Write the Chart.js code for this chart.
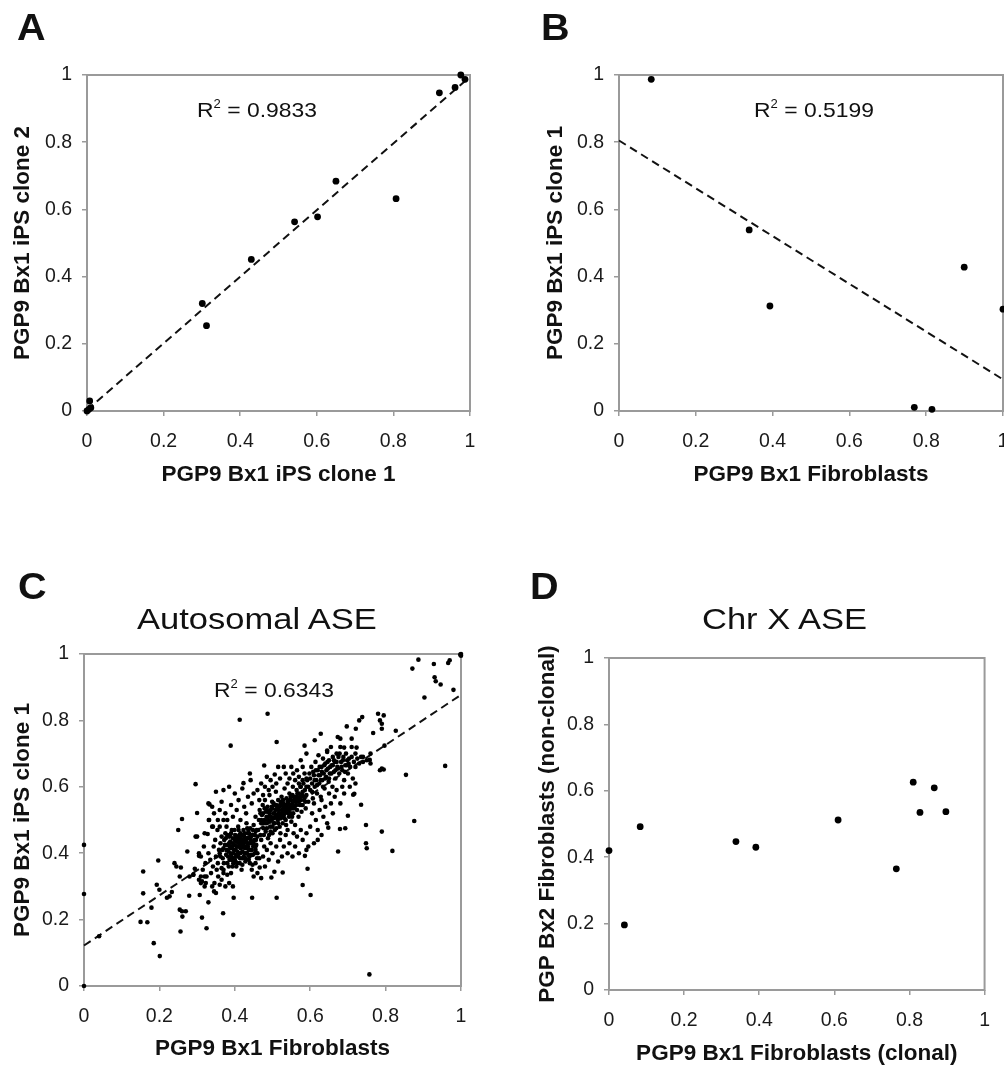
<!DOCTYPE html>
<html>
<head>
<meta charset="utf-8">
<script src="https://cdn.jsdelivr.net/npm/chart.js@4.4.1/dist/chart.umd.min.js"></script>
<style>
  html, body { margin:0; padding:0; background:#fff; width:1004px; height:1069px; overflow:hidden; }
  #wrap { position:relative; width:1004px; height:1069px; overflow:hidden; }
  canvas { position:absolute; }
  .txt { position:absolute; font-family:"Liberation Sans", Arial, Helvetica, sans-serif; color:#111; line-height:1; white-space:nowrap; transform-origin:0 0; }
  .letter { font-size:36px; font-weight:bold; transform:scaleX(1.1); }
  .ttl { font-size:29px; transform:scaleX(1.19); }
  .r2 { font-size:21px; transform:scaleX(1.09); }
  .r2 sup { font-size:12px; vertical-align:0; position:relative; top:-9px; }
</style>
</head>
<body>
<div id="wrap">
  <canvas id="cA" width="502" height="540" style="left:0;top:0;width:502px;height:540px"></canvas>
  <canvas id="cB" width="540" height="540" style="left:502px;top:0;width:540px;height:540px"></canvas>
  <canvas id="cC" width="502" height="529" style="left:0;top:540px;width:502px;height:529px"></canvas>
  <canvas id="cD" width="502" height="529" style="left:502px;top:540px;width:502px;height:529px"></canvas>

  <div class="txt letter" style="left:17px;top:10px">A</div>
  <div class="txt letter" style="left:541px;top:10px">B</div>
  <div class="txt letter" style="left:18px;top:569px">C</div>
  <div class="txt letter" style="left:530px;top:569px">D</div>
  <div class="txt ttl" style="left:137px;top:605px">Autosomal ASE</div>
  <div class="txt ttl" style="left:702px;top:605px">Chr X ASE</div>
  <div class="txt r2" style="left:197px;top:99px">R<sup>2</sup> = 0.9833</div>
  <div class="txt r2" style="left:754px;top:99px">R<sup>2</sup> = 0.5199</div>
  <div class="txt r2" style="left:214px;top:679px">R<sup>2</sup> = 0.6343</div>
</div>
<script>
// ---------- tick labels ----------
const tickVals = [0, 0.2, 0.4, 0.6, 0.8, 1];
const tickLabels = ['0', '0.2', '0.4', '0.6', '0.8', '1'];

// ---------- Panel A ----------
const clone1A = [0, 0.005, 0.01, 0.007, 0.301, 0.312, 0.429, 0.542, 0.602, 0.650, 0.807, 0.920, 0.961, 0.976, 0.987];
const clone2A = [0, 0.005, 0.01, 0.030, 0.320, 0.254, 0.451, 0.563, 0.578, 0.684, 0.632, 0.947, 0.963, 1.000, 0.987];
const trendA = [[0, 0.003], [0.99, 0.985]];

// ---------- Panel B ----------
const fibroB = [0.084, 0.339, 0.393, 0.899, 1.0, 0.769, 0.815];
const clone1B = [0.987, 0.539, 0.3125, 0.428, 0.303, 0.011, 0.005];
const trendB = [[0, 0.805], [1, 0.094]];

// ---------- Panel C (Autosomal ASE) ----------
const autoOutliersLow = [[0,0.425],[0,0.277],[0,0],[0.04,0.15],[0.157,0.345],[0.157,0.279],[0.197,0.378],[0.193,0.305],[0.20,0.29],[0.15,0.193],[0.168,0.192],[0.185,0.129],[0.201,0.09],[0.179,0.236],[0.22,0.266],[0.233,0.283],[0.24,0.37],[0.245,0.36],[0.257,0.357],[0.254,0.33],[0.26,0.503],[0.25,0.47],[0.274,0.405],[0.279,0.272],[0.307,0.274],[0.33,0.252],[0.254,0.23],[0.26,0.225],[0.27,0.225],[0.261,0.209],[0.256,0.164],[0.313,0.206],[0.325,0.174],[0.396,0.154],[0.369,0.219],[0.397,0.266],[0.446,0.266],[0.511,0.266],[0.601,0.274],[0.58,0.304],[0.593,0.353],[0.30,0.521],[0.33,0.55],[0.333,0.547],[0.34,0.54],[0.331,0.50],[0.342,0.48],[0.296,0.45],[0.305,0.392],[0.29,0.335],[0.28,0.33],[0.31,0.31],[0.32,0.33],[0.227,0.27]];
const autoOutliersHigh = [[0.413,0.802],[0.487,0.82],[0.389,0.724],[0.511,0.735],[0.296,0.608],[0.871,0.956],[0.887,0.983],[0.928,0.97],[0.966,0.973],[0.97,0.981],[0.93,0.93],[0.933,0.918],[0.946,0.908],[0.98,0.892],[0.903,0.869],[1.0,1.0],[0.998,0.998],[1.0,0.995]];
const autoCoreLow = [[0.355,0.37],[0.36,0.40],[0.362,0.43],[0.365,0.355],[0.368,0.385],[0.37,0.415],[0.372,0.44],[0.375,0.46],[0.377,0.395],[0.38,0.37],[0.381,0.425],[0.383,0.405],[0.385,0.45],[0.386,0.38],[0.388,0.435],[0.39,0.415],[0.391,0.39],[0.392,0.47],[0.394,0.36],[0.395,0.445],[0.396,0.40],[0.398,0.425],[0.40,0.38],[0.401,0.455],[0.402,0.41],[0.404,0.435],[0.405,0.395],[0.406,0.37],[0.408,0.42],[0.409,0.48],[0.41,0.445],[0.411,0.40],[0.412,0.43],[0.414,0.385],[0.415,0.46],[0.416,0.415],[0.418,0.35],[0.419,0.44],[0.42,0.405],[0.421,0.425],[0.423,0.47],[0.424,0.39],[0.425,0.45],[0.427,0.415],[0.428,0.375],[0.43,0.435],[0.431,0.49],[0.432,0.40],[0.434,0.46],[0.435,0.42],[0.437,0.38],[0.438,0.445],[0.44,0.41],[0.441,0.475],[0.443,0.395],[0.444,0.43],[0.446,0.455],[0.447,0.365],[0.449,0.42],[0.45,0.485],[0.452,0.44],[0.453,0.40],[0.455,0.465],[0.457,0.425],[0.459,0.385],[0.46,0.45],[0.365,0.45],[0.37,0.35],[0.378,0.48],[0.384,0.36],[0.393,0.42],[0.397,0.385],[0.403,0.445],[0.407,0.405],[0.413,0.37],[0.417,0.43],[0.422,0.44],[0.426,0.40],[0.433,0.415],[0.436,0.47],[0.442,0.44],[0.448,0.395],[0.451,0.425],[0.456,0.44],[0.388,0.455],[0.399,0.47],[0.404,0.36],[0.412,0.455],[0.429,0.385],[0.439,0.39]];
const autoCoreLow2 = [[0.362,0.39],[0.367,0.41],[0.371,0.37],[0.374,0.425],[0.379,0.41],[0.382,0.39],[0.387,0.42],[0.389,0.40],[0.392,0.38],[0.395,0.43],[0.398,0.41],[0.40,0.44],[0.403,0.39],[0.405,0.42],[0.407,0.45],[0.409,0.39],[0.411,0.42],[0.413,0.44],[0.415,0.40],[0.418,0.42],[0.42,0.385],[0.422,0.455],[0.424,0.43],[0.426,0.46],[0.428,0.42],[0.43,0.40],[0.432,0.445],[0.434,0.43],[0.436,0.395],[0.438,0.46],[0.44,0.43],[0.443,0.45],[0.445,0.41],[0.448,0.47],[0.45,0.435],[0.453,0.455],[0.455,0.41],[0.458,0.47],[0.39,0.46],[0.385,0.43],[0.376,0.445],[0.38,0.455],[0.41,0.47],[0.416,0.45],[0.433,0.475],[0.396,0.37],[0.402,0.375],[0.42,0.365],[0.427,0.44],[0.437,0.41]];
const autoCoreMid = [[0.462,0.47],[0.464,0.50],[0.466,0.53],[0.468,0.455],[0.47,0.49],[0.472,0.515],[0.474,0.545],[0.476,0.475],[0.478,0.50],[0.48,0.56],[0.482,0.465],[0.483,0.525],[0.485,0.49],[0.487,0.54],[0.488,0.445],[0.49,0.51],[0.492,0.575],[0.494,0.48],[0.495,0.53],[0.497,0.50],[0.499,0.555],[0.50,0.46],[0.502,0.52],[0.504,0.49],[0.505,0.545],[0.507,0.51],[0.509,0.585],[0.51,0.475],[0.512,0.535],[0.514,0.50],[0.515,0.56],[0.517,0.52],[0.519,0.48],[0.52,0.545],[0.522,0.505],[0.524,0.57],[0.525,0.53],[0.527,0.49],[0.529,0.55],[0.53,0.515],[0.532,0.595],[0.534,0.54],[0.535,0.50],[0.537,0.565],[0.539,0.525],[0.54,0.47],[0.542,0.55],[0.544,0.51],[0.545,0.58],[0.547,0.535],[0.549,0.56],[0.55,0.495],[0.552,0.545],[0.554,0.60],[0.555,0.52],[0.557,0.57],[0.559,0.54],[0.56,0.485],[0.562,0.555],[0.564,0.59],[0.565,0.53],[0.567,0.565],[0.569,0.51],[0.57,0.58],[0.572,0.545],[0.574,0.60],[0.575,0.56],[0.577,0.525],[0.579,0.575],[0.58,0.545],[0.582,0.61],[0.584,0.56],[0.586,0.59],[0.588,0.535],[0.59,0.575],[0.468,0.52],[0.473,0.49],[0.479,0.535],[0.484,0.51],[0.489,0.525],[0.493,0.495],[0.498,0.54],[0.503,0.505],[0.508,0.53],[0.513,0.515],[0.518,0.54],[0.523,0.52],[0.528,0.535],[0.533,0.52],[0.538,0.545],[0.543,0.53],[0.548,0.52],[0.553,0.575],[0.558,0.56],[0.563,0.57],[0.491,0.455],[0.506,0.47],[0.521,0.46],[0.536,0.485]];
const autoCoreMid2 = [[0.47,0.50],[0.475,0.52],[0.48,0.49],[0.485,0.53],[0.488,0.50],[0.492,0.52],[0.496,0.51],[0.50,0.535],[0.503,0.55],[0.506,0.52],[0.51,0.545],[0.512,0.505],[0.516,0.53],[0.52,0.51],[0.522,0.555],[0.525,0.51],[0.528,0.56],[0.53,0.53],[0.533,0.545],[0.536,0.53],[0.54,0.555],[0.542,0.52],[0.545,0.545],[0.548,0.57],[0.55,0.535],[0.553,0.55],[0.556,0.535],[0.56,0.565],[0.563,0.545],[0.566,0.58],[0.57,0.555],[0.573,0.57],[0.576,0.545],[0.58,0.585],[0.583,0.57],[0.587,0.555],[0.59,0.60],[0.505,0.49],[0.515,0.49],[0.525,0.545],[0.532,0.505],[0.54,0.535],[0.546,0.56],[0.552,0.51],[0.5,0.48],[0.495,0.465],[0.485,0.475],[0.477,0.455]];
const autoBandUpper = [[0.592,0.62],[0.595,0.555],[0.598,0.64],[0.60,0.59],[0.603,0.66],[0.605,0.61],[0.607,0.565],[0.61,0.635],[0.612,0.60],[0.614,0.675],[0.616,0.62],[0.618,0.58],[0.62,0.65],[0.622,0.695],[0.624,0.61],[0.626,0.635],[0.628,0.57],[0.63,0.66],[0.632,0.62],[0.634,0.685],[0.636,0.64],[0.638,0.595],[0.64,0.67],[0.642,0.63],[0.645,0.705],[0.647,0.655],[0.649,0.615],[0.65,0.68],[0.652,0.64],[0.655,0.72],[0.657,0.665],[0.659,0.60],[0.66,0.69],[0.663,0.645],[0.665,0.675],[0.667,0.625],[0.67,0.70],[0.672,0.66],[0.675,0.69],[0.677,0.64],[0.68,0.72],[0.682,0.675],[0.685,0.65],[0.688,0.69],[0.69,0.62],[0.693,0.665],[0.695,0.70],[0.698,0.68],[0.70,0.64],[0.703,0.685],[0.706,0.66],[0.71,0.69],[0.713,0.625],[0.716,0.675],[0.72,0.66],[0.725,0.685],[0.73,0.67],[0.735,0.69],[0.74,0.675],[0.75,0.68],[0.76,0.67]];
const autoBandUpper2 = [[0.595,0.60],[0.6,0.625],[0.605,0.585],[0.608,0.645],[0.612,0.62],[0.615,0.65],[0.618,0.605],[0.622,0.635],[0.625,0.66],[0.628,0.62],[0.631,0.645],[0.634,0.60],[0.637,0.665],[0.64,0.625],[0.643,0.65],[0.646,0.675],[0.65,0.625],[0.653,0.66],[0.656,0.64],[0.66,0.665],[0.663,0.68],[0.667,0.65],[0.67,0.675],[0.674,0.655],[0.678,0.70],[0.683,0.66],[0.687,0.68],[0.692,0.645],[0.697,0.665],[0.702,0.67],[0.58,0.62],[0.585,0.64],[0.59,0.625],[0.575,0.60],[0.57,0.61]];
const autoPeriLeft = [[0.30,0.45],[0.305,0.40],[0.31,0.39],[0.315,0.35],[0.318,0.42],[0.32,0.46],[0.322,0.37],[0.325,0.33],[0.328,0.458],[0.33,0.40],[0.332,0.50],[0.335,0.38],[0.337,0.34],[0.34,0.48],[0.342,0.36],[0.344,0.42],[0.346,0.31],[0.348,0.44],[0.35,0.39],[0.352,0.35],[0.354,0.47],[0.356,0.33],[0.358,0.41],[0.34,0.30],[0.345,0.285],[0.36,0.305],[0.365,0.32],[0.375,0.30],[0.38,0.335],[0.385,0.31],[0.39,0.34],[0.395,0.30],[0.37,0.34],[0.35,0.28],[0.32,0.30],[0.305,0.32],[0.29,0.335],[0.294,0.353],[0.31,0.33],[0.313,0.315],[0.323,0.31]];
const autoPeriRight = [[0.445,0.35],[0.45,0.33],[0.455,0.37],[0.46,0.34],[0.466,0.357],[0.47,0.325],[0.475,0.39],[0.48,0.36],[0.485,0.41],[0.49,0.38],[0.495,0.43],[0.497,0.327],[0.50,0.40],[0.505,0.344],[0.51,0.42],[0.515,0.375],[0.52,0.44],[0.525,0.39],[0.527,0.342],[0.53,0.42],[0.535,0.455],[0.54,0.40],[0.545,0.43],[0.553,0.39],[0.556,0.46],[0.56,0.42],[0.565,0.45],[0.57,0.40],[0.575,0.47],[0.58,0.44],[0.586,0.392],[0.59,0.46],[0.595,0.42],[0.60,0.48],[0.47,0.44],[0.478,0.42],[0.46,0.40],[0.455,0.42],[0.465,0.385],[0.44,0.37]];
const autoUpperMid = [[0.35,0.585],[0.355,0.50],[0.36,0.53],[0.365,0.555],[0.37,0.59],[0.375,0.52],[0.38,0.50],[0.385,0.60],[0.39,0.545],[0.395,0.51],[0.40,0.58],[0.405,0.53],[0.41,0.56],[0.415,0.50],[0.42,0.595],[0.423,0.611],[0.425,0.54],[0.43,0.52],[0.435,0.57],[0.44,0.64],[0.442,0.62],[0.445,0.55],[0.45,0.58],[0.455,0.51],[0.46,0.59],[0.465,0.56],[0.47,0.61],[0.475,0.575],[0.478,0.664],[0.48,0.60],[0.485,0.63],[0.49,0.59],[0.495,0.62],[0.50,0.60],[0.506,0.637],[0.51,0.61],[0.515,0.66],[0.52,0.625],[0.53,0.66],[0.535,0.64],[0.54,0.61],[0.545,0.625],[0.55,0.66],[0.555,0.64],[0.56,0.62],[0.565,0.65],[0.575,0.68],[0.58,0.66],[0.585,0.724],[0.59,0.70],[0.57,0.63],[0.36,0.48],[0.37,0.50],[0.345,0.52]];
const autoRightSide = [[0.605,0.52],[0.61,0.55],[0.615,0.50],[0.62,0.47],[0.625,0.53],[0.63,0.56],[0.635,0.51],[0.64,0.54],[0.645,0.49],[0.648,0.477],[0.65,0.58],[0.655,0.55],[0.66,0.52],[0.665,0.57],[0.67,0.59],[0.674,0.405],[0.679,0.473],[0.68,0.55],[0.685,0.60],[0.69,0.58],[0.693,0.475],[0.70,0.513],[0.705,0.60],[0.714,0.576],[0.717,0.579],[0.72,0.61],[0.735,0.546],[0.748,0.485],[0.748,0.43],[0.75,0.415],[0.79,0.465],[0.818,0.407],[0.876,0.497],[0.757,0.035],[0.62,0.44],[0.63,0.455],[0.61,0.43],[0.59,0.41]];
const autoUpperRight = [[0.612,0.74],[0.628,0.76],[0.645,0.709],[0.673,0.75],[0.68,0.745],[0.69,0.718],[0.697,0.782],[0.71,0.745],[0.721,0.775],[0.723,0.718],[0.73,0.80],[0.738,0.81],[0.767,0.762],[0.78,0.82],[0.785,0.80],[0.79,0.79],[0.795,0.815],[0.79,0.775],[0.797,0.724],[0.827,0.769],[0.79,0.655],[0.785,0.65],[0.795,0.652],[0.854,0.636],[0.958,0.663],[0.758,0.681],[0.74,0.69],[0.72,0.70],[0.71,0.72],[0.76,0.70]];
const trendC = [[0, 0.122], [1, 0.877]];

// ---------- Panel D (Chr X ASE) ----------
const clonalD = [0, 0.041, 0.083, 0.338, 0.391, 0.610, 0.765, 0.810, 0.828, 0.866, 0.897];
const nonClonalD = [0.420, 0.196, 0.492, 0.447, 0.430, 0.512, 0.365, 0.626, 0.535, 0.609, 0.537];

// ---------- helpers ----------
const FONT = '"Liberation Sans", Arial, Helvetica, sans-serif';
const AXIS_GRAY = '#9a9a9a';
const pairs = (xs, ys) => xs.map((x, i) => ({x, y: ys[i]}));
const pts = arr => arr.map(p => ({x: p[0], y: p[1]}));

const borderBox = {
  id: 'borderBox',
  beforeDatasetsDraw(chart) {
    const {ctx, chartArea: a} = chart;
    ctx.save();
    ctx.strokeStyle = AXIS_GRAY;
    ctx.lineWidth = 2;
    ctx.strokeRect(a.left, a.top, a.right - a.left, a.bottom - a.top);
    ctx.restore();
  }
};

function scatterSet(data, r) {
  return { type: 'scatter', data, pointRadius: r, pointHoverRadius: r, pointBackgroundColor: '#000', pointBorderWidth: 0, showLine: false, clip: false, order: 1 };
}
function trendSet(line) {
  return { type: 'line', data: pts(line), borderColor: '#111', borderWidth: 2, borderDash: [8, 5], pointRadius: 0, fill: false, tension: 0, clip: false, order: 2 };
}

function makeChart(id, o) {
  const tickFont = { family: FONT, size: 19.5 };
  const titleFont = { family: FONT, size: 22.5, weight: 'bold' };
  return new Chart(document.getElementById(id), {
    type: 'scatter',
    data: { datasets: o.datasets },
    options: {
      responsive: false, animation: false, devicePixelRatio: 1,
      layout: { padding: { top: o.padTop, right: o.padRight, bottom: 0, left: 0 } },
      plugins: { legend: { display: false }, tooltip: { enabled: false } },
      scales: {
        x: {
          type: 'linear', min: 0, max: 1,
          afterBuildTicks: s => { s.ticks = tickVals.map(v => ({ value: v })); },
          afterFit: s => { s.height = o.xHeight; },
          ticks: { font: tickFont, color: '#1a1a1a', padding: 14, maxRotation: 0, callback: (v, i) => tickLabels[i] },
          grid: { drawOnChartArea: false, tickLength: 5, color: AXIS_GRAY, lineWidth: 1.5 },
          border: { display: false },
          title: { display: true, text: o.xTitle, font: titleFont, color: '#111', padding: { top: 0, bottom: o.xTitlePad } }
        },
        y: {
          type: 'linear', min: 0, max: 1,
          afterBuildTicks: s => { s.ticks = tickVals.map(v => ({ value: v })); },
          afterFit: s => { s.width = o.yWidth; },
          ticks: { font: tickFont, color: '#1a1a1a', padding: 10, callback: (v, i) => tickLabels[i] },
          grid: { drawOnChartArea: false, tickLength: 5, color: AXIS_GRAY, lineWidth: 1.5 },
          border: { display: false },
          title: { display: true, text: o.yTitle, font: titleFont, color: '#111', padding: { top: o.yTitlePad, bottom: 0 } }
        }
      }
    },
    plugins: [borderBox]
  });
}

makeChart('cA', {
  padTop: 75, padRight: 32, yWidth: 87, xHeight: 129, xTitlePad: 52, yTitlePad: 9,
  xTitle: 'PGP9 Bx1 iPS clone 1', yTitle: 'PGP9 Bx1 iPS clone 2',
  datasets: [scatterSet(pairs(clone1A, clone2A), 3.4), trendSet(trendA)]
});
makeChart('cB', {
  padTop: 75, padRight: 39, yWidth: 117, xHeight: 129, xTitlePad: 52, yTitlePad: 40,
  xTitle: 'PGP9 Bx1 Fibroblasts', yTitle: 'PGP9 Bx1 iPS clone 1',
  datasets: [scatterSet(pairs(fibroB, clone1B), 3.4), trendSet(trendB)]
});
const autoAll = [].concat(autoOutliersLow, autoOutliersHigh, autoCoreLow, autoCoreLow2, autoCoreMid, autoCoreMid2, autoBandUpper, autoBandUpper2, autoPeriLeft, autoPeriRight, autoUpperMid, autoRightSide, autoUpperRight);
makeChart('cC', {
  padTop: 114, padRight: 41, yWidth: 84, xHeight: 83, xTitlePad: 7, yTitlePad: 9,
  xTitle: 'PGP9 Bx1 Fibroblasts', yTitle: 'PGP9 Bx1 iPS clone 1',
  datasets: [scatterSet(pts(autoAll), 2.3), trendSet(trendC)]
});
makeChart('cD', {
  padTop: 118, padRight: 15, yWidth: 107, xHeight: 79, xTitlePad: 2, yTitlePad: 32,
  xTitle: 'PGP9 Bx1 Fibroblasts (clonal)', yTitle: 'PGP Bx2 Fibroblasts (non-clonal)',
  datasets: [scatterSet(pairs(clonalD, nonClonalD), 3.4)]
});
</script>
</body>
</html>
